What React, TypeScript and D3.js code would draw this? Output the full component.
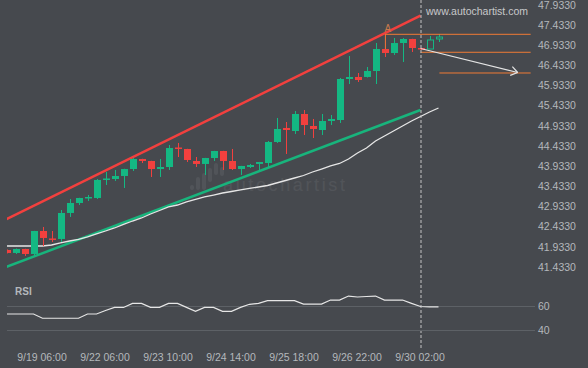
import React, { useEffect, useRef } from "react";
import * as d3 from "d3";

// 4h candles, index 0..48
const opens = [41.855, 41.781, 41.88, 41.756, 42.326, 42.141, 42.128, 42.773, 43.021, 43.157, 43.145, 43.616, 43.616, 43.691, 43.864, 44.113, 44.063, 43.864, 43.914, 44.398, 44.361, 44.063, 43.989, 44.137, 44.311, 44.063, 43.864, 43.914, 43.989, 44.013, 44.534, 44.882, 44.807, 45.229, 44.931, 44.832, 45.055, 45.08, 46.097, 46.147, 46.147, 46.296, 46.841, 46.742, 46.99, 47.09, 46.866, 46.841, 47.09];
const highs = [41.868, 41.892, 41.885, 42.33, 42.426, 42.326, 42.847, 43.12, 43.15, 43.219, 43.616, 43.79, 43.84, 43.87, 44.137, 44.118, 44.068, 44.113, 44.46, 44.51, 44.365, 44.162, 44.14, 44.315, 44.315, 44.361, 43.942, 43.989, 44.04, 44.559, 45.13, 45.03, 45.303, 45.328, 45.105, 45.229, 45.204, 46.122, 46.668, 46.246, 46.395, 46.99, 47.214, 47.114, 47.114, 47.095, 46.87, 47.164, 47.214];
const lows = [41.77, 41.756, 41.706, 41.706, 41.954, 42.054, 42.054, 42.674, 42.971, 43.071, 43.12, 43.468, 43.567, 43.393, 43.815, 44.013, 43.666, 43.666, 43.84, 44.162, 44.038, 43.914, 43.716, 44.063, 43.84, 43.84, 43.716, 43.889, 43.815, 43.914, 44.51, 44.237, 44.733, 44.708, 44.633, 44.708, 44.956, 45.006, 45.973, 46.023, 46.134, 45.973, 46.643, 46.693, 46.519, 46.767, 46.817, 46.841, 47.015];
const closes = [41.781, 41.88, 41.756, 42.326, 42.153, 42.116, 42.773, 43.021, 43.145, 43.17, 43.592, 43.629, 43.691, 43.864, 44.113, 44.063, 43.864, 43.914, 44.385, 44.373, 44.088, 43.989, 44.137, 44.311, 44.063, 43.864, 43.939, 43.964, 44.038, 44.534, 44.857, 44.832, 45.229, 44.956, 44.857, 45.055, 45.105, 46.097, 46.147, 46.072, 46.296, 46.841, 46.742, 46.99, 47.09, 46.866, 46.829, 47.065, 47.139];
const hollowFrom = 47;

const maValues = [41.954, 41.954, 41.954, 41.954, 41.954, 41.979, 42.029, 42.078, 42.116, 42.178, 42.252, 42.326, 42.401, 42.488, 42.574, 42.649, 42.748, 42.835, 42.922, 42.971, 43.046, 43.108, 43.17, 43.219, 43.269, 43.306, 43.344, 43.381, 43.418, 43.455, 43.517, 43.579, 43.641, 43.703, 43.79, 43.864, 43.939, 44.001, 44.113, 44.261, 44.385, 44.559, 44.683, 44.807, 44.931, 45.055, 45.167, 45.279, 45.378];

const rsiValues = [53.4, 53.4, 53.4, 53.4, 49.9, 49.9, 49.9, 49.9, 49.9, 53.4, 53.4, 56.3, 58.8, 58.8, 62.1, 62.1, 58.9, 58.9, 62.2, 62.2, 58.9, 55.6, 58.9, 58.9, 55.6, 55.6, 58.9, 61.4, 62.2, 64.4, 64.4, 64.4, 64.4, 61.6, 61.6, 61.6, 64.9, 64.9, 68.2, 67.4, 67.8, 68.2, 64.9, 64.9, 64.9, 62.2, 59.6, 59.2, 59.2];

const priceTicks = [47.933, 47.433, 46.933, 46.433, 45.933, 45.433, 44.933, 44.433, 43.933, 43.433, 42.933, 42.433, 41.933, 41.433];
const rsiTicks = [60, 40];
const timeLabels = ["9/19 06:00", "9/22 06:00", "9/23 10:00", "9/24 14:00", "9/25 18:00", "9/26 22:00", "9/30 02:00"];
const timeLabelIndex = [4, 11, 18, 25, 32, 39, 46];

// pattern: channel lines [index, price]
const resistance = [[0, 42.618], [46, 47.668]];
const support = [[0, 41.436], [46, 45.328]];
const levels = [
  { from: 42.1, value: 47.206 },
  { from: 46, value: 46.76 },
  { from: 48.1, value: 46.246 },
];
const levelEnd = 58.24;
const forecast = [[46, 46.854], [56.8, 46.258]];
const pointA = { index: 42.1, value: 47.214 };
const nowIndex = 46;

const GREEN = "#14b883";
const RED = "#f2403e";
const FONT = "Liberation Sans, Arial, sans-serif";

export default function App() {
  const ref = useRef<SVGSVGElement>(null);

  useEffect(() => {
    const svg = d3.select(ref.current);
    svg.selectAll("*").remove();

    const width = 588, height = 368;
    const x = d3.scaleLinear().domain([0, 1]).range([6.5, 15.5]);
    const y = d3.scaleLinear().domain([41.433, 47.933]).range([267, 5]);
    const yRsi = d3.scaleLinear().domain([40, 60]).range([330.3, 306]);

    svg.append("rect").attr("width", width).attr("height", height).attr("fill", "#46494e");

    svg.append("defs").append("clipPath").attr("id", "plot")
      .append("rect").attr("x", 7).attr("y", 0).attr("width", 530).attr("height", 280);

    // faint watermark logo
    const wm = svg.append("g").attr("fill", "#ffffff").attr("opacity", 0.06);
    [[190, 185, 5], [196, 177, 13], [202, 173, 17], [208, 168, 14], [214, 163, 12], [220, 167, 9]].forEach(([bx, by, bh]) => {
      wm.append("rect").attr("x", bx).attr("y", by).attr("width", 4).attr("height", bh).attr("rx", 2);
    });
    wm.append("text").attr("x", 223).attr("y", 191).attr("font-family", FONT)
      .attr("font-size", 18).attr("textLength", 122).text("autochartist");

    const plot = svg.append("g").attr("clip-path", "url(#plot)");

    // price axis labels
    svg.append("g").selectAll("text").data(priceTicks).enter().append("text")
      .attr("x", 538).attr("y", d => y(d)).attr("dy", "0.35em")
      .attr("font-family", FONT).attr("font-size", 10.5).attr("fill", "#b4b8bc")
      .text(d => d.toFixed(4));

    // channel lines
    const line = d3.line<number[]>().x(d => x(d[0])).y(d => y(d[1]));
    plot.append("path").attr("d", line(resistance)).attr("stroke", RED)
      .attr("stroke-width", 2.5).attr("fill", "none");
    plot.append("path").attr("d", line(support)).attr("stroke", "#18b47c")
      .attr("stroke-width", 2.5).attr("fill", "none");

    // moving average
    const maLine = d3.line<number>().x((d, i) => x(i)).y(d => y(d));
    plot.append("path").attr("d", maLine(maValues)).attr("stroke", "#e6e6e6")
      .attr("stroke-width", 1.3).attr("fill", "none");

    // candles
    const candles = plot.append("g");
    opens.forEach((o, i) => {
      const c = closes[i];
      const up = c >= o;
      const color = up ? GREEN : RED;
      const cx = Math.round(x(i)) + 0.5;
      const top = y(Math.max(o, c));
      const bot = y(Math.min(o, c));
      const bh = Math.max(1.5, bot - top);
      candles.append("line").attr("x1", cx).attr("x2", cx)
        .attr("y1", y(highs[i])).attr("y2", y(lows[i]))
        .attr("stroke", color).attr("stroke-width", 1);
      if (i >= hollowFrom) {
        candles.append("rect").attr("x", cx - 3).attr("y", top).attr("width", 6).attr("height", bh)
          .attr("fill", "#46494e").attr("stroke", color).attr("stroke-width", 1);
      } else {
        candles.append("rect").attr("x", cx - 3.5).attr("y", top).attr("width", 7).attr("height", bh)
          .attr("fill", color);
      }
    });

    // pattern point A
    svg.append("line").attr("x1", x(pointA.index)).attr("x2", x(pointA.index))
      .attr("y1", y(pointA.value)).attr("y2", y(opens[42]))
      .attr("stroke", "#e8743a").attr("stroke-width", 1);
    svg.append("text").attr("x", x(pointA.index) + 2.5).attr("y", 32)
      .attr("text-anchor", "middle").attr("font-family", FONT).attr("font-size", 10)
      .attr("fill", "#c97a4c").text("A");

    // target levels
    svg.append("g").selectAll("line").data(levels).enter().append("line")
      .attr("x1", d => x(d.from)).attr("x2", x(levelEnd))
      .attr("y1", d => y(d.value)).attr("y2", d => y(d.value))
      .attr("stroke", "#f07b35").attr("stroke-width", 1);

    // forecast arrow
    const [p0, p1] = forecast.map(d => [x(d[0]), y(d[1])]);
    svg.append("line").attr("x1", p0[0]).attr("y1", p0[1]).attr("x2", p1[0]).attr("y2", p1[1])
      .attr("stroke", "#e4e4e4").attr("stroke-width", 1.2);
    const ang = Math.atan2(p1[1] - p0[1], p1[0] - p0[0]);
    [-0.6, 0.6].forEach(a => {
      svg.append("line").attr("x1", p1[0]).attr("y1", p1[1])
        .attr("x2", p1[0] - 8 * Math.cos(ang + a)).attr("y2", p1[1] - 8 * Math.sin(ang + a))
        .attr("stroke", "#e4e4e4").attr("stroke-width", 1.2);
    });

    // current time marker
    svg.append("line").attr("x1", x(nowIndex) + 0.5).attr("x2", x(nowIndex) + 0.5)
      .attr("y1", 0).attr("y2", 350).attr("stroke", "#c4c4c4")
      .attr("stroke-width", 1).attr("stroke-dasharray", "3,2");

    svg.append("text").attr("x", 426).attr("y", 15).attr("font-family", FONT)
      .attr("font-size", 10.5).attr("fill", "#c6c8ca").attr("textLength", 102)
      .text("www.autochartist.com");

    // RSI panel
    svg.append("text").attr("x", 15).attr("y", 295).attr("font-family", FONT)
      .attr("font-size", 10).attr("font-weight", "bold").attr("fill", "#b4b8bc").text("RSI");
    svg.append("g").selectAll("line").data(rsiTicks).enter().append("line")
      .attr("x1", 7).attr("x2", 535).attr("y1", d => Math.round(yRsi(d)) + 0.5).attr("y2", d => Math.round(yRsi(d)) + 0.5)
      .attr("stroke", "#5d6166").attr("stroke-width", 1);
    svg.append("g").selectAll("text").data(rsiTicks).enter().append("text")
      .attr("x", 538).attr("y", d => yRsi(d)).attr("dy", "0.35em")
      .attr("font-family", FONT).attr("font-size", 10.5).attr("fill", "#b4b8bc").text(d => d);
    const rsiLine = d3.line<number>().x((d, i) => Math.max(7, x(i))).y(d => yRsi(d));
    svg.append("path").attr("d", rsiLine(rsiValues)).attr("stroke", "#e6e6e6")
      .attr("stroke-width", 1.2).attr("fill", "none");

    // time axis
    svg.append("g").selectAll("text").data(timeLabels).enter().append("text")
      .attr("x", (d, i) => x(timeLabelIndex[i]) - 0.5).attr("y", 360.5).attr("text-anchor", "middle")
      .attr("font-family", FONT).attr("font-size", 10.5).attr("fill", "#b4b8bc").text(d => d);
  }, []);

  return (
    <div style={{ position: "fixed", left: 0, top: 0 }}>
      <svg ref={ref} width={588} height={368} style={{ display: "block" }} />
    </div>
  );
}
